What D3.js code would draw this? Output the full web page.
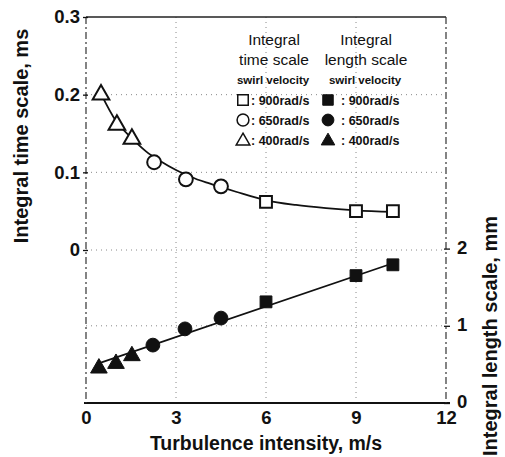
<!DOCTYPE html>
<html>
<head>
<meta charset="utf-8">
<script src="https://cdn.jsdelivr.net/npm/d3@7"></script>
<style>
  body { margin: 0; background: #fff; }
  text { font-family: "Liberation Sans", Arial, sans-serif; fill: #111; }
</style>
</head>
<body>
<div id="chart"></div>
<script>
// turbulence intensity, m/s
var timeSquareX = [6.0, 9.0, 10.23];
var timeSquareY = [0.062, 0.050, 0.050];
var timeCircleX = [2.27, 3.33, 4.5];
var timeCircleY = [0.113, 0.091, 0.082];
var timeTriX = [0.5, 1.03, 1.53];
var timeTriY = [0.202, 0.163, 0.145];

var lenSquareX = [6.0, 9.0, 10.23];
var lenSquareY = [1.31, 1.65, 1.79];
var lenCircleX = [2.23, 3.3, 4.5];
var lenCircleY = [0.75, 0.96, 1.1];
var lenTriX = [0.43, 1.0, 1.53];
var lenTriY = [0.47, 0.53, 0.63];

// fitted curves
var timeFitX = [0.5, 1.0, 1.5, 2.0, 2.5, 3.0, 3.5, 4.0, 4.5, 5.0, 6.0, 7.0, 8.0, 9.0, 10.23];
var timeFitY = [0.201, 0.166, 0.145, 0.127, 0.114, 0.103, 0.094, 0.087, 0.081, 0.075, 0.064, 0.058, 0.054, 0.051, 0.049];
var lenFitX = [0.47, 10.23];
var lenFitY = [0.52, 1.81];

var xTicks = [0, 3, 6, 9, 12];
var leftTicks = [0, 0.1, 0.2, 0.3];
var rightTicks = [0, 1, 2];
var legendLabels = [": 900rad/s", ": 650rad/s", ": 400rad/s"];

var width = 505, height = 457;
var svg = d3.select("#chart").append("svg")
    .attr("width", width).attr("height", height);

var x = d3.scaleLinear().domain([0, 12]).range([86, 446]);
var yL = d3.scaleLinear().domain([0, 0.3]).range([250, 17]);
var yR = d3.scaleLinear().domain([0, 5]).range([403, 17]);

function zip(a, b) { return a.map(function(v, i) { return [v, b[i]]; }); }

// dotted grid
var grid = svg.append("g").attr("stroke", "#888").attr("stroke-width", 1)
    .attr("stroke-dasharray", "1,4");
[3, 6, 9].forEach(function(v) {
  grid.append("line").attr("x1", x(v)).attr("x2", x(v)).attr("y1", yR(5)).attr("y2", yR(0));
});
[0.1, 0.2, 0].forEach(function(v) {
  grid.append("line").attr("x1", x(0)).attr("x2", x(12)).attr("y1", yL(v)).attr("y2", yL(v));
});
grid.append("line").attr("x1", x(0)).attr("x2", x(12)).attr("y1", yR(1)).attr("y2", yR(1));

// frame
svg.append("line").attr("x1", x(0)).attr("x2", x(12)).attr("y1", yR(5)).attr("y2", yR(5))
    .attr("stroke", "#222").attr("stroke-width", 1.3);
svg.append("line").attr("x1", x(0) - 2).attr("x2", x(12) + 4).attr("y1", yR(0)).attr("y2", yR(0))
    .attr("stroke", "#111").attr("stroke-width", 2);
svg.append("line").attr("x1", x(0)).attr("x2", x(0)).attr("y1", yR(5)).attr("y2", yR(0))
    .attr("stroke", "#333").attr("stroke-width", 1.2).attr("stroke-dasharray", "7,3,2,3");
svg.append("line").attr("x1", x(12)).attr("x2", x(12)).attr("y1", yR(5)).attr("y2", yR(0))
    .attr("stroke", "#333").attr("stroke-width", 1.2).attr("stroke-dasharray", "7,3,2,3");

// axes
var axB = d3.axisBottom(x).tickValues(xTicks).tickSize(0).tickPadding(8);
var gB = svg.append("g").attr("transform", "translate(0," + yR(0) + ")").call(axB);
var axLft = d3.axisLeft(yL).tickValues(leftTicks).tickSize(5).tickPadding(3)
    .tickFormat(function(d) { return d === 0 ? "0" : d3.format(".1f")(d); });
var gL = svg.append("g").attr("transform", "translate(" + (x(0) + 2) + ",0)").call(axLft);
var axR = d3.axisRight(yR).tickValues(rightTicks).tickSize(6).tickPadding(7)
    .tickFormat(d3.format("d"));
var gR = svg.append("g").attr("transform", "translate(" + (x(12) - 2) + ",0)").call(axR);
[gB, gL, gR].forEach(function(g) {
  g.select(".domain").remove();
  g.selectAll(".tick line").attr("stroke", "#111").attr("stroke-width", 1.3);
  g.selectAll(".tick text").attr("font-size", 18.5).attr("font-weight", "bold").attr("fill", "#111")
    .style("font-family", "Liberation Sans, Arial, sans-serif");
});
gR.selectAll(".tick text").attr("dy", "0.25em");

// axis titles
svg.append("text").attr("x", x(6)).attr("y", 450).attr("text-anchor", "middle")
    .attr("font-size", 19.5).attr("font-weight", "bold").text("Turbulence intensity, m/s");
svg.append("text").attr("transform", "translate(28,136) rotate(-90)").attr("text-anchor", "middle")
    .attr("font-size", 20).attr("font-weight", "bold").text("Integral time scale, ms");
svg.append("text").attr("transform", "translate(497,336) rotate(-90)").attr("text-anchor", "middle")
    .attr("font-size", 20).attr("font-weight", "bold").text("Integral length scale, mm");

// fit lines
var lineL = d3.line().x(function(d) { return x(d[0]); }).y(function(d) { return yL(d[1]); })
    .curve(d3.curveMonotoneX);
var lineR = d3.line().x(function(d) { return x(d[0]); }).y(function(d) { return yR(d[1]); });
svg.append("path").attr("d", lineL(zip(timeFitX, timeFitY)))
    .attr("fill", "none").attr("stroke", "#111").attr("stroke-width", 1.8);
svg.append("path").attr("d", lineR(zip(lenFitX, lenFitY)))
    .attr("fill", "none").attr("stroke", "#111").attr("stroke-width", 1.8);

// markers
var sym = {
  square: d3.symbol().type(d3.symbolSquare),
  circle: d3.symbol().type(d3.symbolCircle),
  triangle: d3.symbol().type(d3.symbolTriangle)
};
var sizes = { square: 140, circle: 150, triangle: 120 };

function drawMarks(xs, ys, yScale, kind, filled) {
  svg.append("g").selectAll("path").data(zip(xs, ys)).enter().append("path")
    .attr("d", sym[kind].size(sizes[kind])())
    .attr("transform", function(d) {
      var dy = kind === "triangle" ? 1.5 : 0;
      return "translate(" + x(d[0]) + "," + (yScale(d[1]) + dy) + ")";
    })
    .attr("fill", filled ? "#111" : "#fff")
    .attr("stroke", "#111").attr("stroke-width", filled ? 1 : 2);
}
drawMarks(timeSquareX, timeSquareY, yL, "square", false);
drawMarks(timeCircleX, timeCircleY, yL, "circle", false);
drawMarks(timeTriX, timeTriY, yL, "triangle", false);
drawMarks(lenSquareX, lenSquareY, yR, "square", true);
drawMarks(lenCircleX, lenCircleY, yR, "circle", true);
drawMarks(lenTriX, lenTriY, yR, "triangle", true);

// legend
var lg = svg.append("g");
var cols = [
  { cx: 274, title: ["Integral", "time scale"], mx: 243, tx: 251, filled: false },
  { cx: 366, title: ["Integral", "length scale"], mx: 328, tx: 341, filled: true }
];
var kinds = ["square", "circle", "triangle"];
var rowY = [100, 120, 140];
cols.forEach(function(c) {
  lg.append("text").attr("x", c.cx).attr("y", 45).attr("text-anchor", "middle")
    .attr("font-size", 15.5).attr("fill", "#000").text(c.title[0]);
  lg.append("text").attr("x", c.cx).attr("y", 65).attr("text-anchor", "middle")
    .attr("font-size", 15.5).attr("fill", "#000").text(c.title[1]);
  lg.append("text").attr("x", c.cx - 1).attr("y", 84).attr("text-anchor", "middle")
    .attr("font-size", 11.5).attr("font-weight", "bold").text("swirl velocity");
  kinds.forEach(function(k, i) {
    lg.append("path").attr("d", d3.symbol().type(sym[k].type()).size(k === "triangle" ? 80 : 110)())
      .attr("transform", "translate(" + c.mx + "," + (rowY[i] + (k === "triangle" ? 1 : 0)) + ")")
      .attr("fill", c.filled ? "#111" : "#fff").attr("stroke", "#111")
      .attr("stroke-width", c.filled ? 1 : 1.5);
    lg.append("text").attr("x", c.tx).attr("y", rowY[i] + 4.5)
      .attr("font-size", 12.5).attr("font-weight", "bold").text(legendLabels[i]);
  });
});
</script>
</body>
</html>
